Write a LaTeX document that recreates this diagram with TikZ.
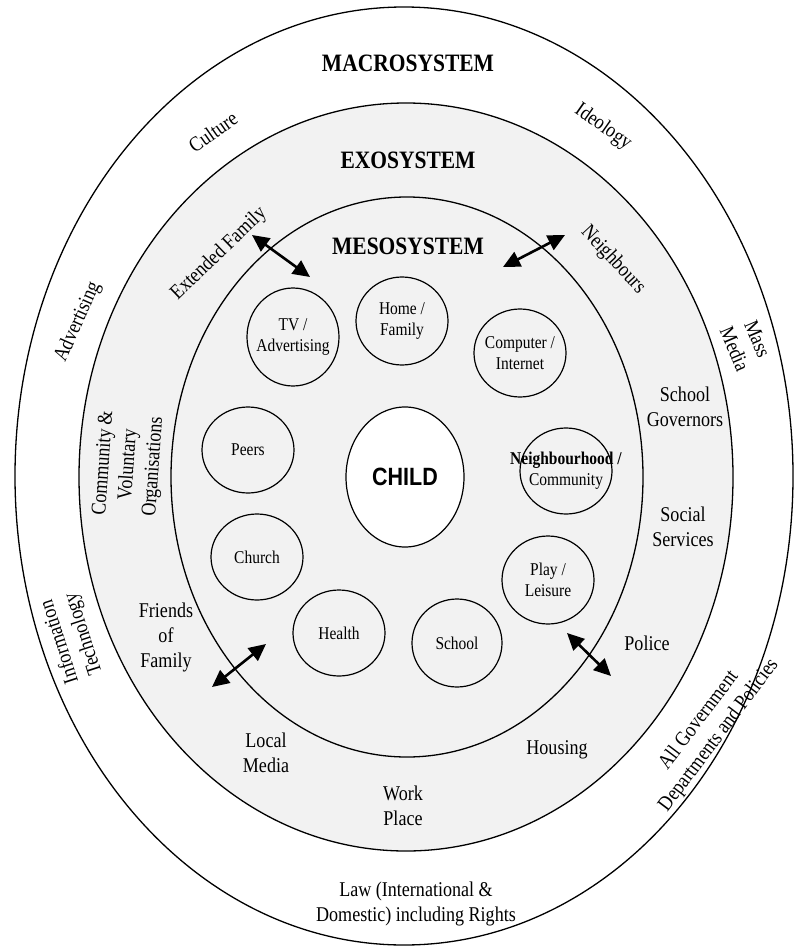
\documentclass[tikz,border=0pt]{standalone}
\usepackage{fontspec}
\setmainfont{Liberation Serif}[FakeStretch=0.86]
\setsansfont{Liberation Sans}[FakeStretch=0.86]
\usetikzlibrary{arrows.meta,shapes.geometric}
\definecolor{shade}{HTML}{F2F2F2}
\tikzset{
  ring/.style={draw=black,line width=1.3pt},
  sysname/.style={font=\bfseries\fontsize{25}{27}\selectfont},
  lbl/.style={font=\fontsize{21}{25}\selectfont,align=center,inner sep=0pt},
  setting/.style={ellipse,draw=black,line width=1.2pt,fill=shade,inner sep=0pt,minimum width=92pt,minimum height=88pt},
  settext/.style={font=\fontsize{18}{21}\selectfont,align=center,inner sep=0pt},
  core/.style={ellipse,draw=black,line width=1.2pt,fill=white,inner sep=0pt,minimum width=118pt,minimum height=140pt,font=\sffamily\bfseries\fontsize{25}{27}\selectfont},
  link/.style={{Triangle[length=17pt,width=16pt]}-{Triangle[length=17pt,width=16pt]},line width=2.6pt}
}
\begin{document}
\begin{tikzpicture}[x=1pt,y=-1pt]
\path[use as bounding box] (0,0) rectangle (796,947);
\fill[white] (0,0) rectangle (796,947);
\draw[ring,fill=white] (404,476) ellipse [x radius=389pt,y radius=469pt];
\draw[ring,fill=shade] (406,477) ellipse [x radius=327pt,y radius=374pt];
\draw[ring,fill=shade] (407,477) ellipse [x radius=236pt,y radius=280pt];
\node[sysname] (macro) at (408,63) {MACROSYSTEM};
\node[sysname] (exo) at (408,160) {EXOSYSTEM};
\node[sysname] (meso) at (408,246) {MESOSYSTEM};
\node[lbl,rotate=35] (culture) at (213,132) {Culture};
\node[lbl,rotate=-35] (ideology) at (603,127) {Ideology};
\node[lbl,rotate=66] (advert) at (78,322) {Advertising};
\node[lbl,rotate=-67] (massmedia) at (746,344) {Mass\\Media};
\node[lbl,rotate=108] (infotech) at (72,638) {Information\\Technology};
\node[lbl,rotate=53] (govt) at (709,728) {All Government\\Departments and Policies};
\node[lbl] (law) at (416,904) {Law (International \&\\Domestic) including Rights};
\node[lbl,rotate=44] (extfam) at (219,254) {Extended Family};
\node[lbl,rotate=-47] (neighbours) at (613,260) {Neighbours};
\node[lbl,rotate=86] (community) at (129,465) {Community \&\\Voluntary\\Organisations};
\node[lbl] (governors) at (685,407) {School\\Governors};
\node[lbl] (social) at (683,527) {Social\\Services};
\node[lbl] (police) at (647,643) {Police};
\node[lbl] (friends) at (166,637) {Friends\\of\\Family};
\node[lbl] (localmedia) at (266,753) {Local\\Media};
\node[lbl] (workplace) at (403,806) {Work\\Place};
\node[lbl] (housing) at (557,750) {Housing};
\node[setting,minimum height=98pt,label={[settext]center:TV /\\Advertising}] (tv) at (293,337) {};
\node[setting,label={[settext]center:Home /\\Family}] (home) at (402,321) {};
\node[setting,label={[settext]center:Computer /\\Internet}] (computer) at (520,353) {};
\node[setting,minimum height=86pt,label={[settext]center:Peers}] (peers) at (248,450) {};
\node[core] (child) at (405,477) {CHILD};
\node[setting,minimum height=86pt,label={[settext]center:\textbf{Neighbourhood /}\\Community}] (hood) at (566,471) {};
\node[setting,minimum height=86pt,label={[settext]center:Church}] (church) at (257,557) {};
\node[setting,label={[settext]center:Play /\\Leisure}] (play) at (548,580) {};
\node[setting,minimum height=86pt,label={[settext]center:Health}] (health) at (339,633) {};
\node[setting,minimum width=90pt,label={[settext]center:School}] (school) at (457,643) {};
\coordinate (efA) at (252,235); \coordinate (efB) at (310,277);
\coordinate (nbA) at (565,235); \coordinate (nbB) at (503,267);
\coordinate (frA) at (212,687); \coordinate (frB) at (266,644);
\coordinate (poA) at (611,676); \coordinate (poB) at (567,633);
\draw[link] (efA) -- (efB); \draw[link] (nbA) -- (nbB);
\draw[link] (frA) -- (frB); \draw[link] (poA) -- (poB);
\end{tikzpicture}
\end{document}
